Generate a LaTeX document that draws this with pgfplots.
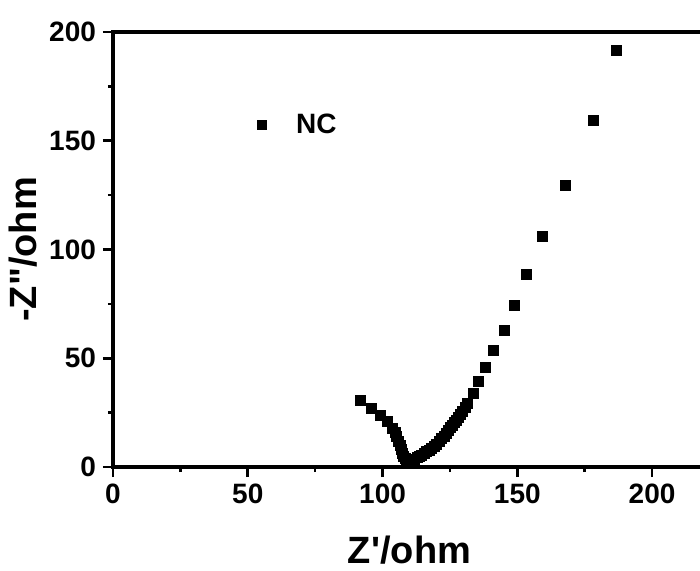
\documentclass[border=0pt]{standalone}
\usepackage{fontspec}
\setmainfont{Liberation Sans}[Ligatures=TeXOff]
\usepackage{pgfplots}
\pgfplotsset{compat=1.18}

\begin{document}
\begin{tikzpicture}
% page = 350pt x 285pt (1 px of the reference = 0.5pt)
\useasboundingbox (-56.5pt,-51.5pt) rectangle (293.5pt,233.5pt);
\clip (-56.5pt,-51.5pt) rectangle (293.5pt,233.5pt);
\begin{axis}[
  at={(0pt,0pt)}, anchor=south west,
  scale only axis,
  width=296.5pt, height=217.5pt,
  xmin=0, xmax=220, ymin=0, ymax=200,
  xtick={0,50,100,150,200}, ytick={0,50,100,150,200},
  minor x tick num=1, minor y tick num=1,
  tick align=outside, xtick pos=lower, ytick pos=left,
  major tick length=5pt, minor tick length=2.5pt,
  axis line style={line width=1.6pt},
  every tick/.style={black, line width=1.3pt},
  /pgf/number format/assume math mode=true,
  tick label style={font=\fontsize{14}{16}\selectfont\bfseries},
  xlabel={Z'/ohm},
  ylabel={-Z"/ohm},
  label style={font=\fontsize{19}{22}\selectfont\bfseries},
  xlabel style={at={(axis description cs:0.5,-0.19)}, anchor=center},
  ylabel style={at={(axis description cs:-0.152,0.5)}, anchor=center},
  legend style={at={(axis cs:55.2,157.2)}, anchor=west, xshift=-2.3pt,
    draw=none, fill=none, inner sep=0pt, font=\fontsize{14}{16}\selectfont\bfseries},
  legend image code/.code={
    % invisible path only to reserve room between mark and text
    \pgfpathmoveto{\pgfpoint{-2.3pt}{0pt}}
    \pgfpathlineto{\pgfpoint{15pt}{0pt}}
    \pgfusepath{}
    \path[draw=black, fill=black] plot[mark=square*, mark size=2.2pt, only marks] coordinates {(0pt,0pt)};
  },
]
\addplot[only marks, mark=square*, mark size=2.5pt, black, fill=black] coordinates {
  (91.9,30.5) (96.0,27.0) (99.1,23.9) (101.8,20.8) (103.8,17.8)
  (104.6,15.9) (105.3,13.9) (105.9,12.0) (106.5,10.1) (107.0,8.2)
  (107.5,6.3) (107.9,5.1) (108.3,4.0) (108.8,3.1) (109.2,2.4)
  (109.7,2.0) (110.2,1.7) (111.0,2.5) (111.8,3.3) (112.9,4.4)
  (113.7,5.0) (114.5,5.5) (115.5,6.2) (116.4,7.0) (117.3,7.8)
  (118.3,8.6) (119.2,9.5) (120.1,10.6) (121.0,11.9) (122.0,13.2)
  (122.8,14.3) (123.6,15.5) (124.3,16.8) (125.0,18.1) (125.8,19.3)
  (126.5,20.4) (127.3,21.5) (128.1,22.7) (129.0,24.0) (129.8,25.4)
  (130.6,27.3) (131.5,29.3) (133.6,33.9) (135.6,39.2) (138.2,45.8)
  (141.1,53.5) (145.1,63.0) (148.9,74.2) (153.5,88.6) (159.4,105.9)
  (167.7,129.7) (178.2,159.5) (186.9,191.4)
};
\addlegendentry{NC}
\end{axis}
\end{tikzpicture}
\end{document}
